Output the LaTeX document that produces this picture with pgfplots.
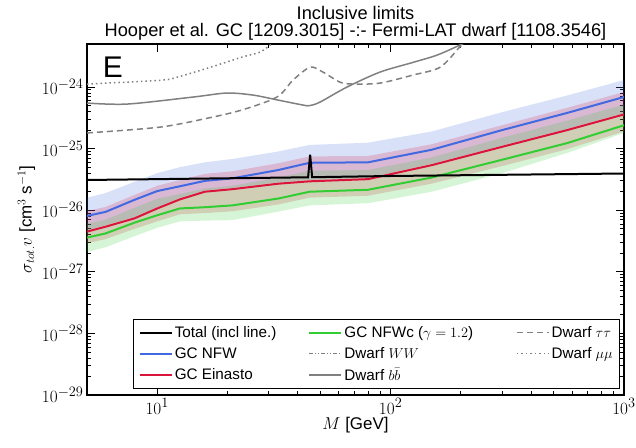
\documentclass[border=0pt]{standalone}
\usepackage{fontspec}
\setmainfont{Liberation Sans}
\usepackage{pgfplots}
\pgfplotsset{compat=1.18}
\definecolor{cblue}{RGB}{65,105,225}
\definecolor{cred}{RGB}{220,20,60}
\definecolor{cgreen}{RGB}{50,205,50}
\definecolor{cgray}{RGB}{128,128,128}
\begin{document}
\begin{tikzpicture}
\begin{axis}[
  scale only axis, width=537bp, height=351bp,
  xmode=log, ymode=log, xmin=5, xmax=1000, ymin=1e-29, ymax=5e-24,
  xtick={10,100,1000}, ytick={1e-29,1e-28,1e-27,1e-26,1e-25,1e-24},
  tick align=inside, major tick length=8bp, minor tick length=4bp,
  axis line style={line width=1.2bp},
  every tick/.style={black, line width=0.8bp},
  tick label style={font=\fontsize{19}{19}\selectfont},
  label style={font=\fontsize{17}{19}\selectfont},
  xlabel={$M$ [GeV]},
  xlabel style={yshift=4bp},
  ylabel={$\sigma_{tot.}v$ [cm$^3$ s$^{-1}$]},
  title style={font=\fontsize{18.3}{20}\selectfont, align=center, at={(0.5,1)}, anchor=south, inner sep=1bp, yshift=-3bp},
  title={Inclusive limits\\[-3bp]Hooper et al. GC [1209.3015] -:- Fermi-LAT dwarf [1108.3546]},
  legend columns=3,
  legend cell align=left,
  legend style={at={(rel axis cs:0.9926,0.017)}, anchor=south east, draw=black, line width=0.8bp,
    font=\fontsize{15.3}{17}\selectfont, inner sep=5bp, row sep=4.5bp},
  legend image code/.code={\draw[#1] (0bp,0bp) -- (23bp,0bp); \path (0bp,0bp) -- (32bp,0bp);},
]
\coordinate (sw) at (rel axis cs:0,0);
% bands
\addplot[fill=cblue, fill opacity=0.2, draw=none, forget plot] coordinates {
(5,1.6e-26)(6,1.9e-26)(8,2.9e-26)(10,4.0e-26)(12.5,5.0e-26)(16,6.0e-26)(21,6.8e-26)(33,9.0e-26)(45,1.15e-25)(80,1.25e-25)(150,1.9e-25)(300,3.9e-25)(570,7.3e-25)(1000,1.3e-24)
(1000,3.8e-25)(570,2.1e-25)(300,1.12e-25)(150,5.7e-26)(80,3.35e-26)(45,3.1e-26)(33,2.85e-26)(21,2.3e-26)(16,2.1e-26)(12.5,1.58e-26)(10,1.12e-26)(8,7.8e-27)(6,5.7e-27)(5,4.7e-27)};
\addplot[fill=cred, fill opacity=0.2, draw=none, forget plot] coordinates {
(5,9.7e-27)(6,1.13e-26)(8,1.78e-26)(10,2.5e-26)(12.5,3.1e-26)(16,3.9e-26)(21,4.3e-26)(33,5.8e-26)(45,7.5e-26)(80,7.6e-26)(150,1.18e-25)(300,2.4e-25)(570,4.6e-25)(1000,8.3e-25)
(1000,1.9e-25)(570,9.8e-26)(300,5.2e-26)(150,2.7e-26)(80,1.72e-26)(45,1.6e-26)(33,1.24e-26)(21,9.6e-27)(16,9.0e-27)(12.5,8.6e-27)(10,6.6e-27)(8,5.0e-27)(6,3.4e-27)(5,2.9e-27)};
\addplot[fill=cgreen, fill opacity=0.2, draw=none, forget plot] coordinates {
(5,6.1e-27)(6,7.0e-27)(8,1.1e-26)(10,1.54e-26)(12.5,1.84e-26)(16,2.25e-26)(21,2.5e-26)(33,3.4e-26)(45,4.4e-26)(80,4.5e-26)(150,7.2e-26)(300,1.5e-25)(570,2.85e-25)(1000,5.2e-25)
(1000,1.8e-25)(570,8.5e-26)(300,4.0e-26)(150,2.0e-26)(80,1.3e-26)(45,1.2e-26)(33,9.5e-27)(21,6.9e-27)(16,6.8e-27)(12.5,6.6e-27)(10,5.2e-27)(8,3.8e-27)(6,2.5e-27)(5,2.1e-27)};
% dwarf curves
\addplot[cgray, line width=1.5bp, smooth, tension=0.5, forget plot] coordinates {
(5,5.5e-25)(7.45,5.3e-25)(14.3,6.9e-25)(19.9,8.0e-25)(25.8,7.4e-25)(32.6,6.2e-25)(42.2,5.1e-25)(45,5.0e-25)(49.8,5.7e-25)(65,1.0e-24)(90,1.75e-24)(124,2.5e-24)(158,3.3e-24)(198,4.8e-24)(215,5.6e-24)};
\addplot[cgray, line width=1.5bp, dash pattern=on 6bp off 4bp, smooth, tension=0.5, forget plot] coordinates {
(5,1.8e-25)(10.3,2.24e-25)(16.9,3.2e-25)(23.3,4.3e-25)(32.6,6.9e-25)(38.2,1.3e-24)(45.2,2.1e-24)(51.3,1.75e-24)(60.7,1.2e-24)(69,1.12e-24)(90,1.16e-24)(124,1.56e-24)(163,2.1e-24)(198,4.5e-24)(210,5.5e-24)};
\addplot[cgray, line width=1.5bp, dash pattern=on 1.5bp off 3bp, smooth, tension=0.5, forget plot] coordinates {
(5,1.12e-24)(10.3,1.29e-24)(12.2,1.45e-24)(16.9,2.1e-24)(23.3,3.1e-24)(27.6,3.7e-24)(31.3,5.2e-24)(34,6.5e-24)};
% GC lines
\addplot[cgreen, line width=2bp, forget plot] coordinates {
(5,3.6e-27)(6,4.2e-27)(8,6.3e-27)(10,8.3e-27)(12.5,1.07e-26)(16,1.12e-26)(21,1.2e-26)(33,1.55e-26)(45,2.0e-26)(80,2.15e-26)(150,3.4e-26)(300,6.6e-26)(570,1.23e-25)(1000,2.4e-25)};
\addplot[cred, line width=2bp, forget plot] coordinates {
(5,4.5e-27)(6,5.4e-27)(8,7.4e-27)(10,1.07e-26)(12.5,1.5e-26)(16,2.0e-26)(21,2.2e-26)(33,2.7e-26)(45,2.95e-26)(80,3.2e-26)(150,5.4e-26)(300,1.07e-25)(570,2.0e-25)(1000,3.6e-25)};
\addplot[cblue, line width=2bp, forget plot] coordinates {
(5,8.1e-27)(6,9.4e-27)(8,1.48e-26)(10,2.05e-26)(12.5,2.45e-26)(16,3.0e-26)(21,3.3e-26)(33,4.5e-26)(45,5.9e-26)(80,6.0e-26)(150,9.6e-26)(300,2.0e-25)(570,3.8e-25)(1000,6.9e-25)};
\addplot[black, line width=2bp, forget plot] coordinates {
(5,3.1e-26)(10,3.2e-26)(44.3,3.43e-26)(45.2,8.0e-26)(46.1,3.44e-26)(100,3.6e-26)(1000,3.95e-26)};
% legend, ordered to fill columns
\addlegendimage{black, line width=2bp}\addlegendentry{Total (incl line.)\hspace*{30bp}\null}
\addlegendimage{cgreen, line width=2bp}\addlegendentry{GC NFWc ($\gamma=1.2$)\hspace*{41bp}\null}
\addlegendimage{cgray, line width=1.5bp, dash pattern=on 6bp off 4bp}\addlegendentry{Dwarf $\tau\tau$}
\addlegendimage{cblue, line width=2bp}\addlegendentry{GC NFW}
\addlegendimage{cgray, line width=1.5bp, dash pattern=on 4bp off 2bp on 1bp off 2bp on 1bp off 2bp}\addlegendentry{Dwarf $WW$}
\addlegendimage{cgray, line width=1.5bp, dash pattern=on 1.5bp off 3bp}\addlegendentry{Dwarf $\mu\mu$}
\addlegendimage{cred, line width=2bp}\addlegendentry{GC Einasto}
\addlegendimage{cgray, line width=1.5bp}\addlegendentry{Dwarf $b\bar{b}$}
\node[font=\fontsize{30}{30}\selectfont] at (rel axis cs:0.048,0.933) {E};
\end{axis}
\pgfresetboundingbox
\path (sw) ++(-87bp,-53bp) rectangle ++(636bp,448bp);
\end{tikzpicture}
\end{document}
